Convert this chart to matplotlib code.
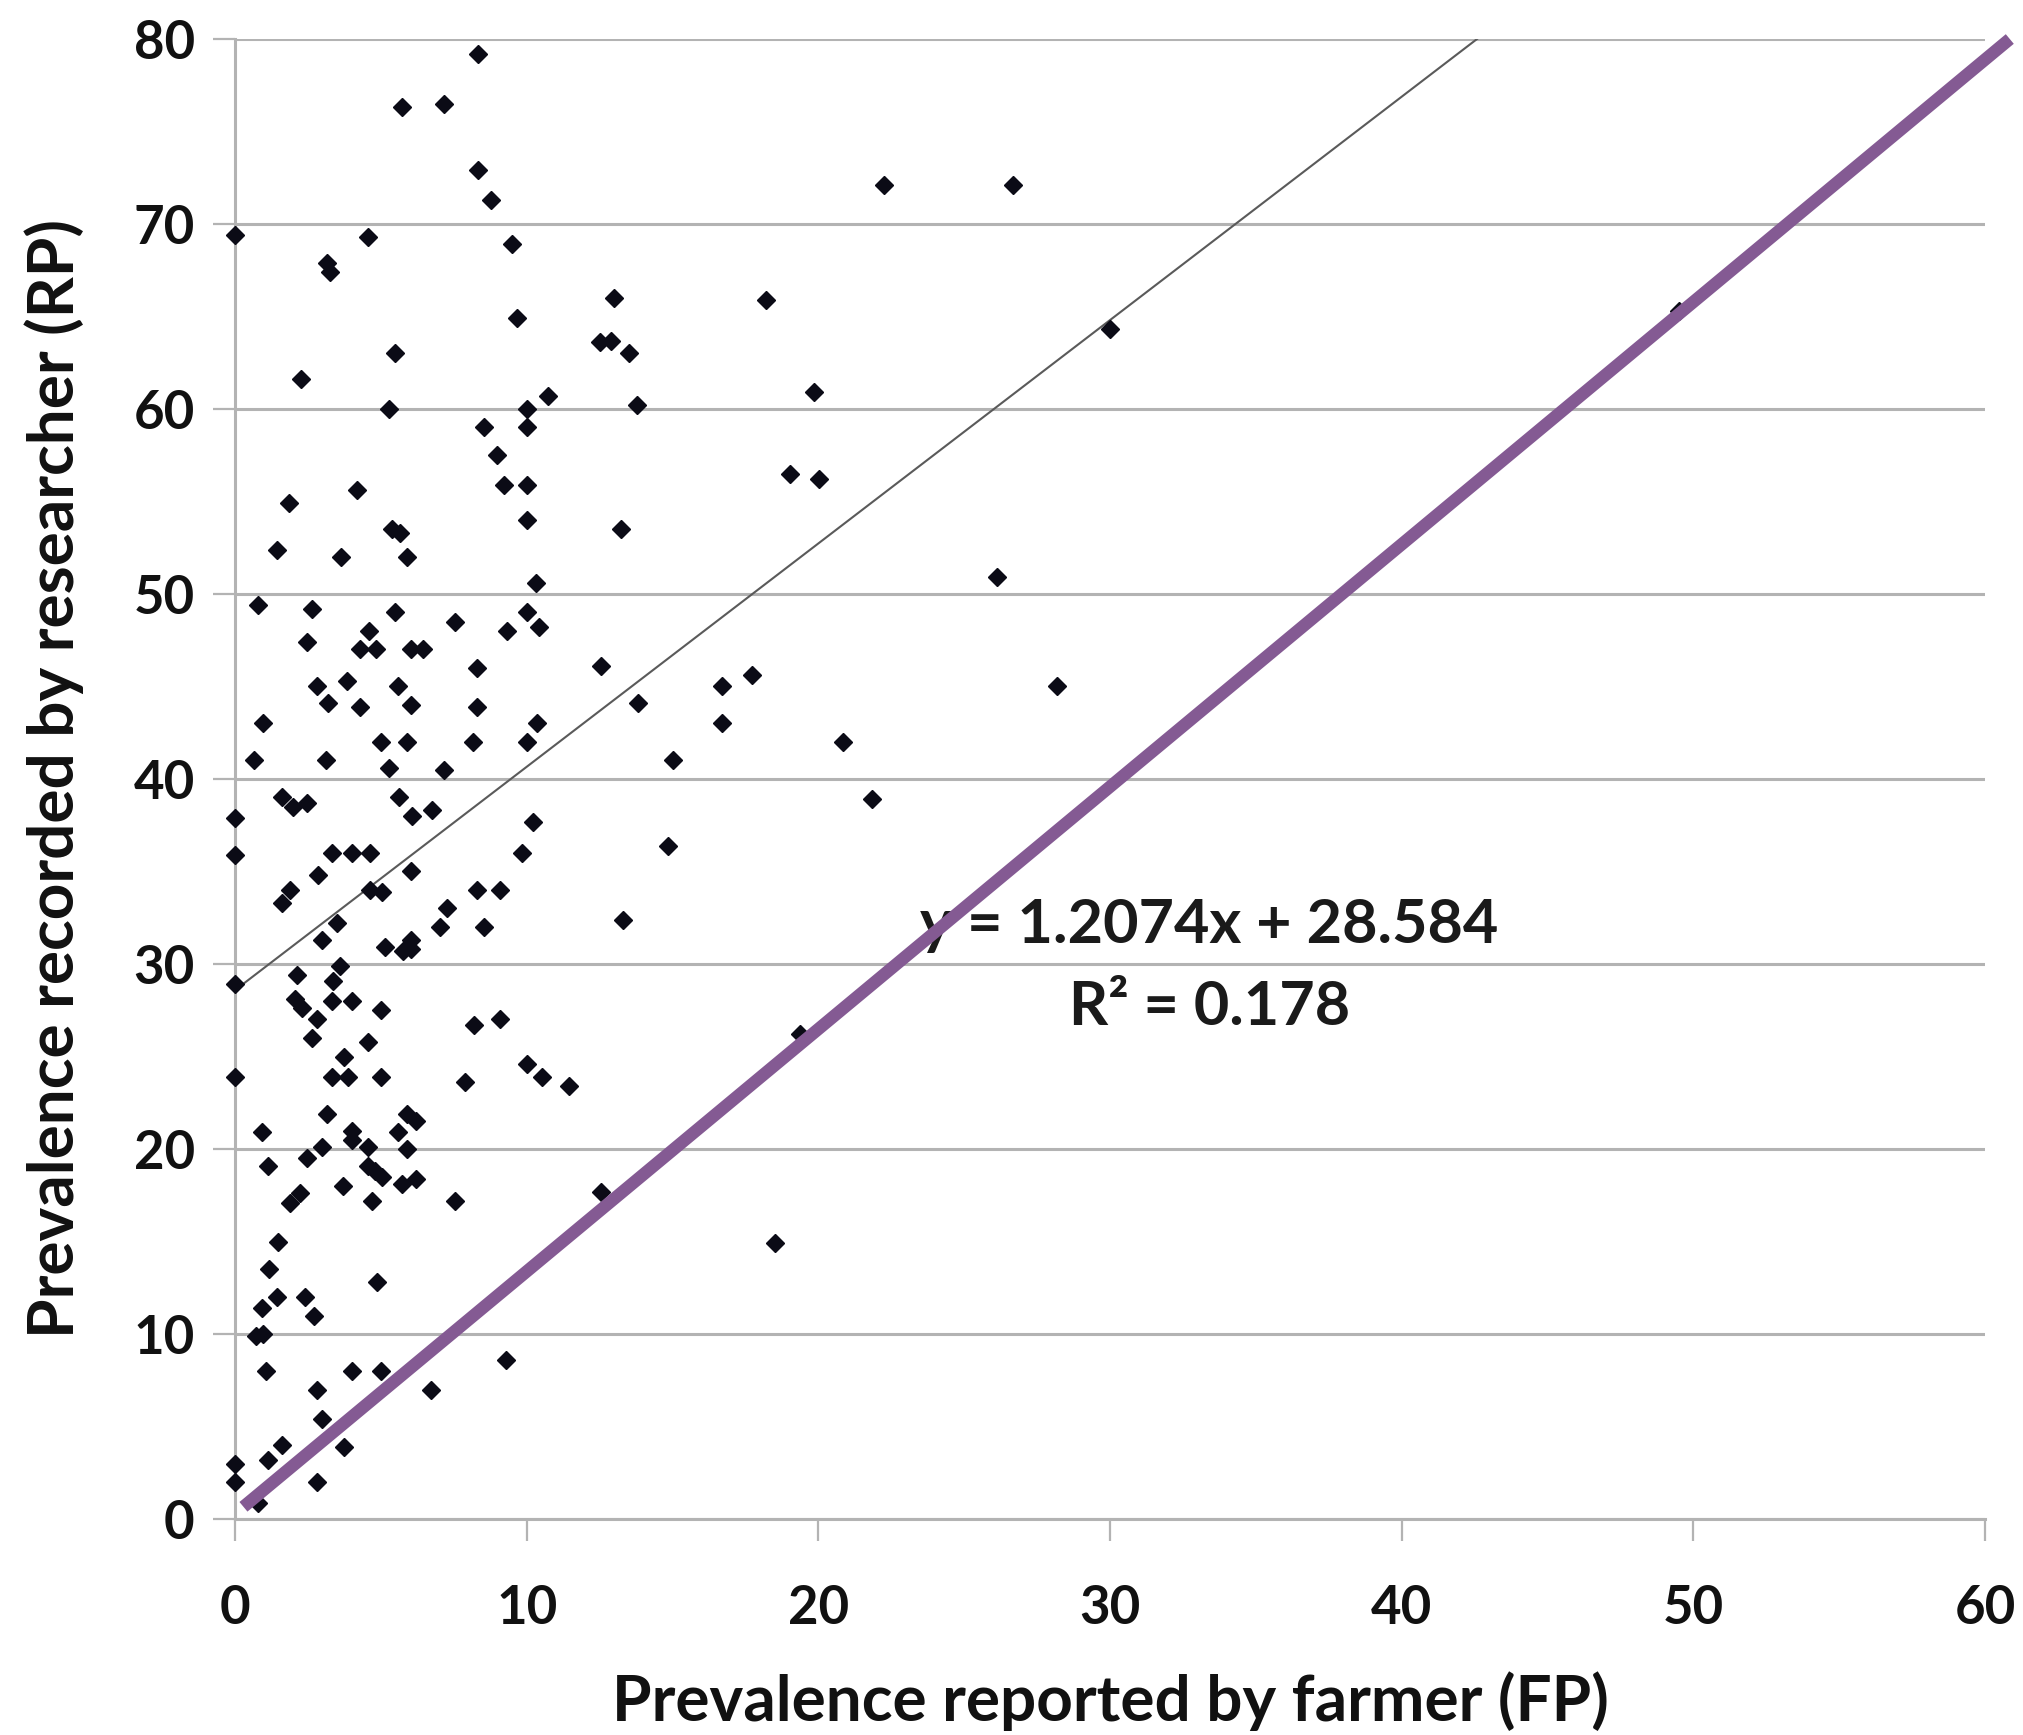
import numpy as np
import matplotlib
matplotlib.use("Agg")
import matplotlib.pyplot as plt

plt.rcParams['font.family'] = ['Lato', 'DejaVu Sans']

# prevalence reported by farmer (FP) / recorded by researcher (RP)
fp = [8.32, 5.74, 7.18, 8.32, 8.78, 0.0, 4.55, 9.51, 3.14, 3.26, 13.0, 9.68, 5.49, 2.25, 12.51, 12.88,
      13.51, 5.28, 10.74, 10.0, 13.8, 8.54, 10.0,
      8.97, 9.22, 10.0, 10.0, 4.17, 1.86, 13.25, 5.37, 5.66, 1.45, 3.62, 5.91, 10.31, 0.8, 2.65, 5.49,
      7.54, 10.0, 10.42, 9.34, 2.48, 4.6, 4.29, 4.82, 6.02, 6.43, 8.31, 12.55, 2.82, 3.2, 3.83, 4.29,
      5.58, 6.02, 8.31, 13.83, 0.95, 10.37, 10.0, 5.0, 5.91, 8.17, 0.66, 3.11, 5.28, 7.18, 15.03, 1.6,
      2.0, 2.46, 5.64, 6.08, 6.77, 10.23, 0.0, 0.0, 3.31, 4.0, 4.63, 9.83, 14.83,
      16.7, 17.71, 16.7, 20.85, 21.85, 28.2, 22.26, 26.68, 18.2, 30.0, 19.86, 19.03, 20.02, 26.11,
      6.02, 2.86, 1.89, 1.6, 4.63, 5.03, 8.31, 9.08, 7.26, 7.03, 8.54, 13.31, 3.51, 3.0, 5.14, 5.75,
      6.02, 6.02, 3.6, 2.11, 0.0, 3.37, 2.06, 2.29, 3.31, 4.0, 5.0, 2.82, 2.65, 4.55, 8.2, 9.08, 3.74,
      3.34, 3.89, 5.0, 0.0, 7.88, 10.0, 10.54, 11.45, 3.14, 0.94, 4.0, 4.0, 5.91, 6.2, 5.6, 5.91, 4.57,
      2.97, 2.48, 1.14, 4.57, 5.03, 4.8, 5.74, 6.2, 3.69, 1.89, 2.23, 4.7, 7.54, 12.55, 1.48, 1.17,
      4.86, 19.37, 18.51, 49.5,
      1.43, 0.94, 2.4, 2.72, 0.71, 0.97, 1.05, 4.0, 5.0, 9.29, 2.82, 6.72, 2.99, 1.62, 3.74, 1.14,
      0.0, 0.0, 2.82, 0.8]
rp = [79.2, 76.3, 76.5, 72.9, 71.3, 69.4, 69.3, 68.9, 67.9, 67.4, 66.0, 64.9, 63.0, 61.6, 63.6, 63.7,
      63.0, 60.0, 60.7, 60.0, 60.2, 59.0, 59.0,
      57.5, 55.9, 55.9, 54.0, 55.6, 54.9, 53.5, 53.5, 53.3, 52.4, 52.0, 52.0, 50.6, 49.4, 49.2, 49.0,
      48.5, 49.0, 48.2, 48.0, 47.4, 48.0, 47.0, 47.0, 47.0, 47.0, 46.0, 46.1, 45.0, 44.1, 45.3, 43.9,
      45.0, 44.0, 43.9, 44.1, 43.0, 43.0, 42.0, 42.0, 42.0, 42.0, 41.0, 41.0, 40.6, 40.5, 41.0, 39.0,
      38.5, 38.7, 39.0, 38.0, 38.3, 37.7, 37.9, 35.9, 36.0, 36.0, 36.0, 36.0, 36.4,
      45.0, 45.6, 43.0, 42.0, 38.9, 45.0, 72.1, 72.1, 65.9, 64.3, 60.9, 56.5, 56.2, 50.9,
      35.0, 34.8, 34.0, 33.3, 34.0, 33.9, 34.0, 34.0, 33.0, 32.0, 32.0, 32.4, 32.2, 31.3, 30.9, 30.7,
      31.3, 30.8, 29.9, 29.4, 28.9, 29.1, 28.1, 27.6, 28.0, 28.0, 27.5, 27.0, 26.0, 25.8, 26.7, 27.0,
      25.0, 23.9, 23.9, 23.9, 23.9, 23.6, 24.6, 23.9, 23.4, 21.9, 20.9, 21.0, 20.5, 21.9, 21.5, 20.9,
      20.0, 20.1, 20.1, 19.5, 19.1, 19.1, 18.5, 18.8, 18.1, 18.4, 18.0, 17.1, 17.6, 17.2, 17.2, 17.7,
      15.0, 13.5, 12.8, 26.2, 14.9, 65.3,
      12.0, 11.4, 12.0, 11.0, 9.9, 10.0, 8.0, 8.0, 8.0, 8.6, 7.0, 7.0, 5.4, 4.0, 3.9, 3.2, 3.0, 2.0,
      2.0, 0.85]

slope = 1.2074
intercept = 28.584
r2 = 0.178

# hand-drawn reference line (endpoints)
ref_x = [0.29, 60.85]
ref_y = [0.66, 80.0]

grid_col = '#b3b3b3'

fig = plt.figure(figsize=(20.24, 17.35), dpi=100)
ax = fig.add_axes([235 / 2024, 1 - 1519 / 1735, 1750 / 2024, 1480 / 1735])

ax.set_xlim(0, 60)
ax.set_ylim(0, 80)
ax.set_xticks(np.arange(0, 61, 10))
ax.set_yticks(np.arange(0, 81, 10))
ax.grid(axis='y', color=grid_col, lw=2.2, zorder=0)
ax.set_axisbelow(True)

for s in ['top', 'right']:
    ax.spines[s].set_visible(False)
for s in ['left', 'bottom']:
    ax.spines[s].set_color(grid_col)
    ax.spines[s].set_linewidth(2.2)

ax.tick_params(axis='both', direction='out', length=16, width=1.6, color=grid_col,
               labelsize=38, labelcolor='#111111')
ax.tick_params(axis='y', pad=13)
ax.tick_params(axis='x', pad=31)
for lab in ax.get_xticklabels() + ax.get_yticklabels():
    lab.set_fontweight('bold')

ax.plot(fp, rp, linestyle='none', marker='D', ms=9.5, color='#0b0b16', zorder=3, clip_on=False)

xt = np.array([0, (80 - intercept) / slope])
ax.plot(xt, slope * xt + intercept, color='#5a5a5a', lw=1.5, zorder=2)

ax.text(33.4, 32.1, 'y = {:.4f}x + {:.3f}'.format(slope, intercept), ha='center', va='center',
        fontsize=44, fontweight='bold', color='#1a1a1a', zorder=4)
ax.text(33.4, 27.7, 'R² = {:.3f}'.format(r2), ha='center', va='center',
        fontsize=44, fontweight='bold', color='#1a1a1a', zorder=4)

ax.plot(ref_x, ref_y, color='#845a93', lw=9, solid_capstyle='butt', zorder=5, clip_on=False)

fig.text(1110 / 2024, 1 - 1721 / 1735, 'Prevalence reported by farmer (FP)', fontsize=46,
         fontweight='bold', color='#111111', ha='center', va='baseline')
fig.text(54 / 2024, 1 - 779 / 1735, 'Prevalence recorded by researcher (RP)', fontsize=46,
         fontweight='bold', color='#111111', ha='center', va='center', rotation=90)

fig.savefig('out.png', dpi=100, facecolor='white')
